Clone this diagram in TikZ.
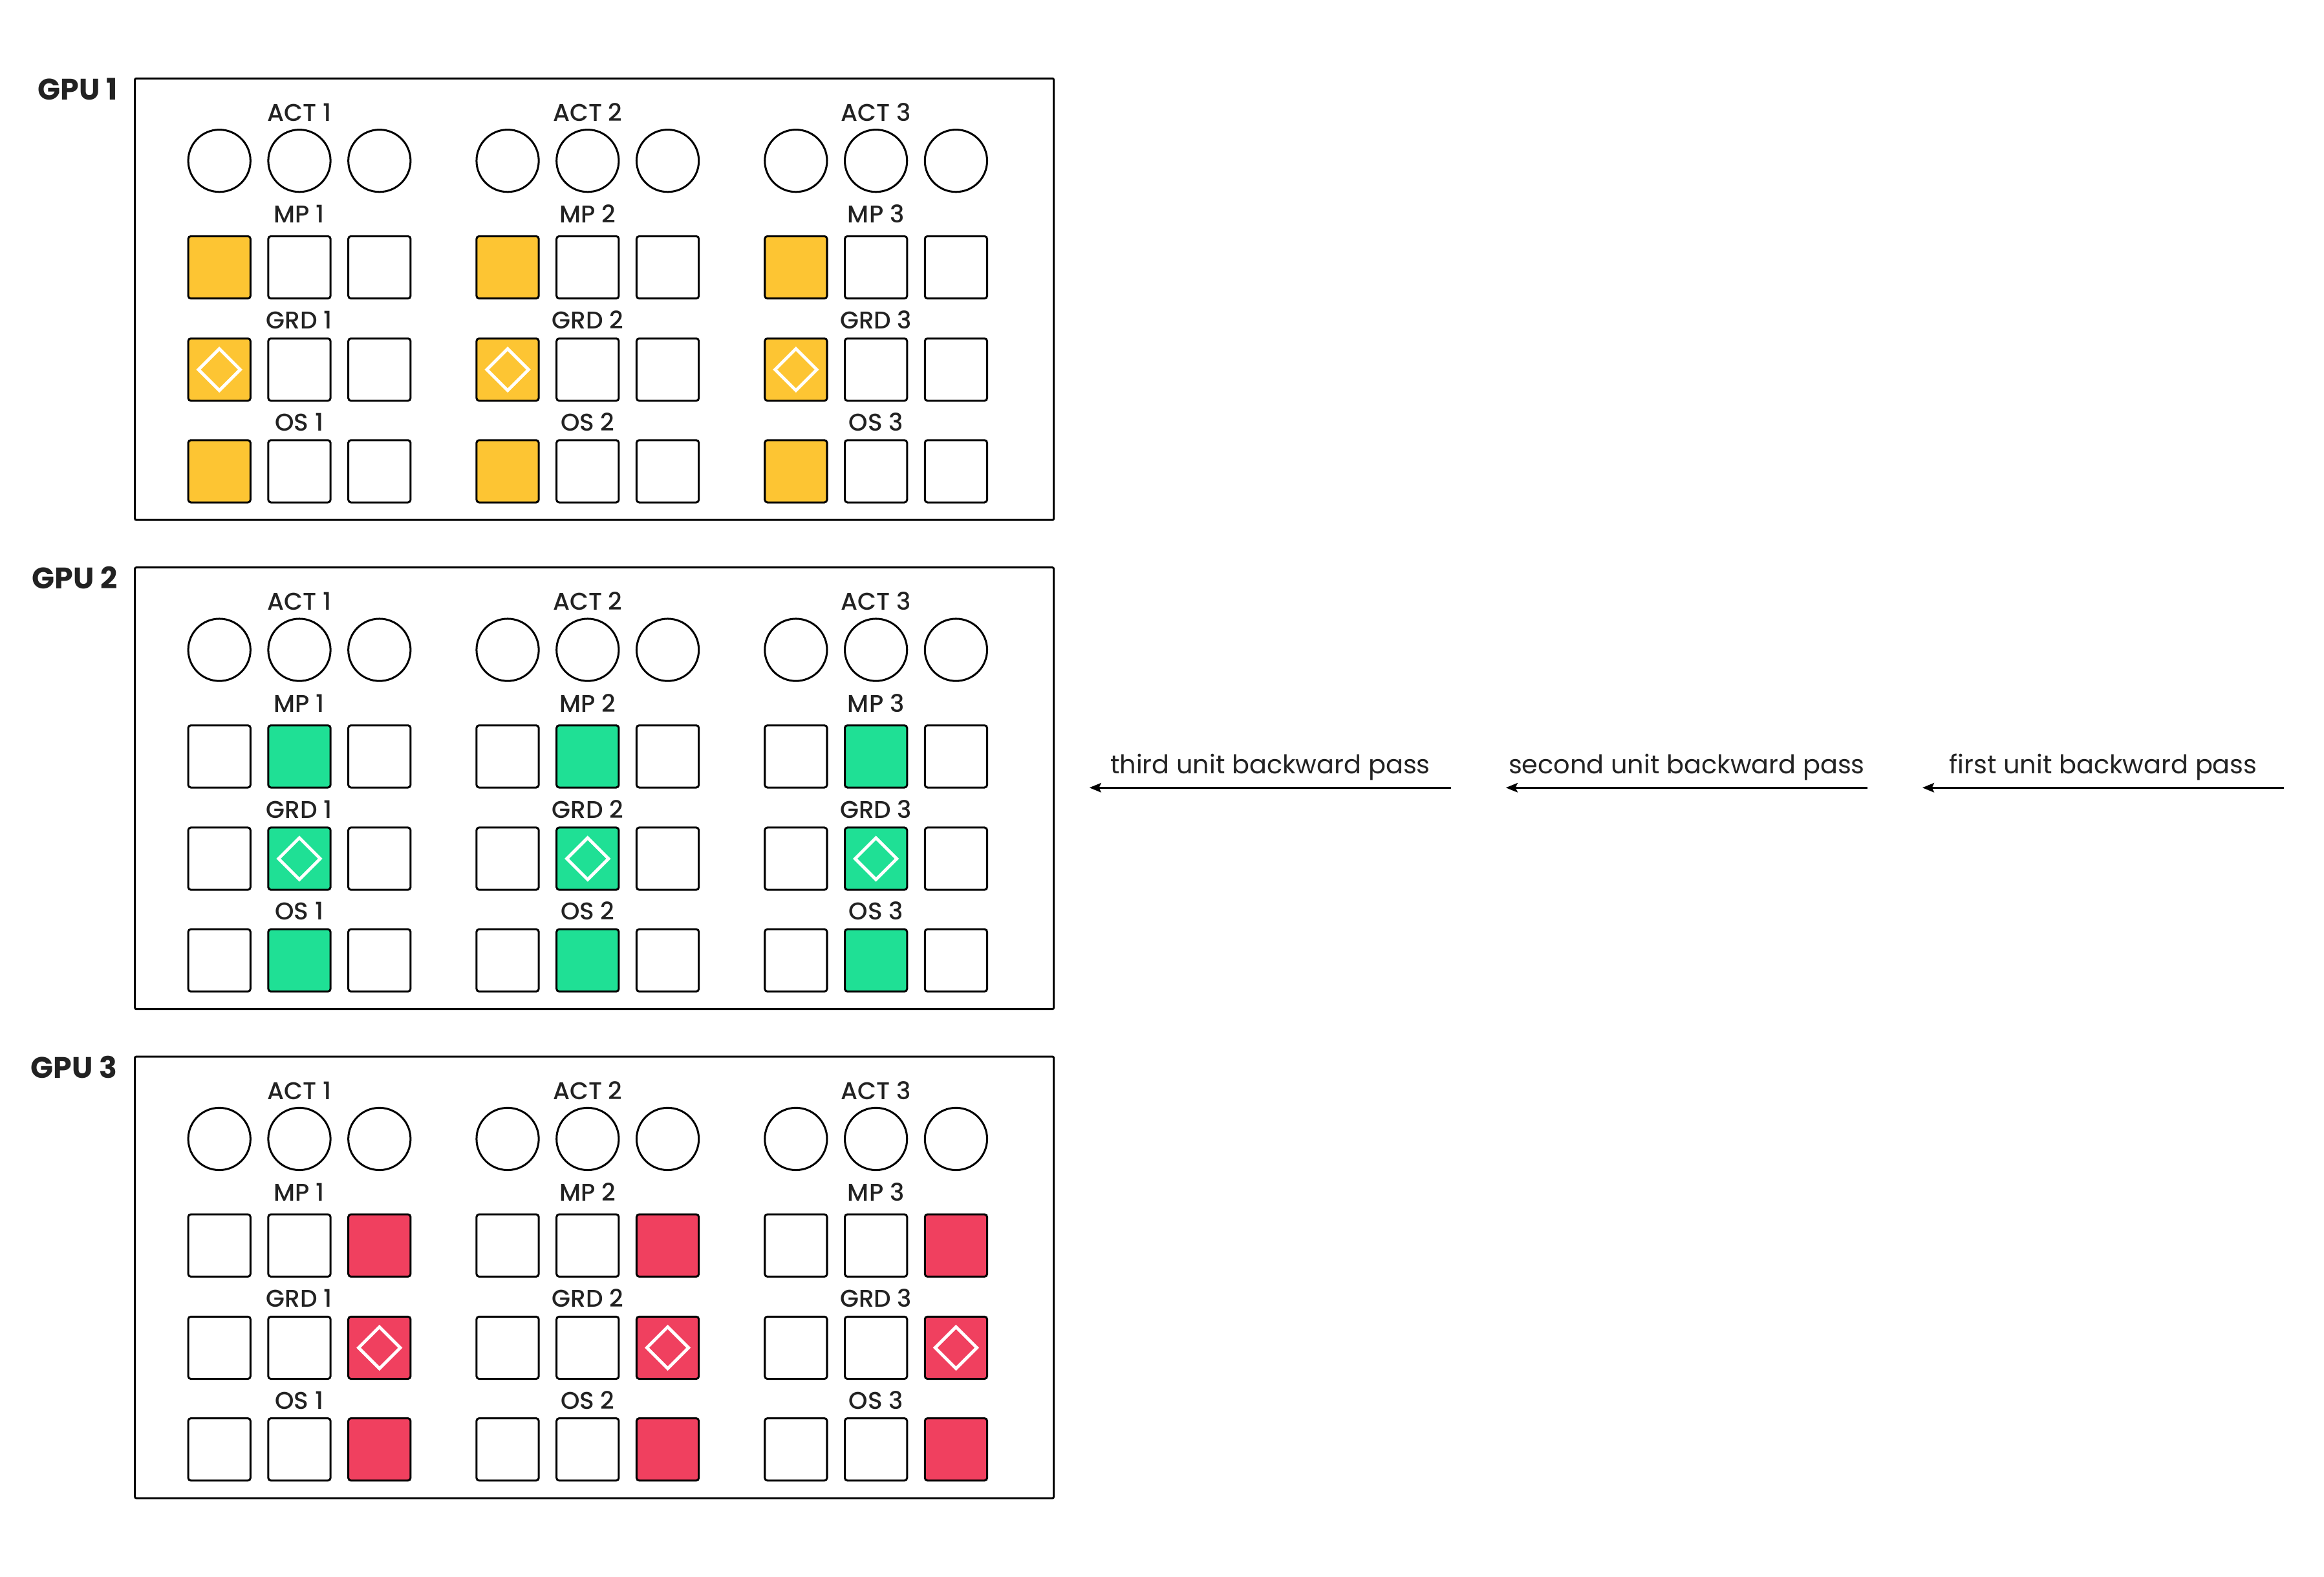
\documentclass[tikz,border=0pt]{standalone}
\usepackage{fontspec}
\setmainfont{Poppins}
\newfontfamily\medfont{Poppins Medium}
\usetikzlibrary{positioning,shapes.geometric,arrows.meta}

\definecolor{gpuyellow}{HTML}{FDC533}
\definecolor{gpugreen}{HTML}{1FE095}
\definecolor{gpured}{HTML}{F0405F}
\definecolor{ink}{HTML}{222222}

\begin{document}
\begin{tikzpicture}[x=0.02cm,y=-0.02cm,
	gpubox/.style={draw,line width=0.75pt,rounded corners=0.5pt,minimum width=12.4cm,minimum height=5.96cm,inner sep=0pt},
	actcirc/.style={draw,circle,line width=0.75pt,minimum size=0.84cm,inner sep=0pt},
	cell/.style={draw,line width=0.75pt,rounded corners=1pt,minimum size=0.84cm,inner sep=0pt},
	grad/.style={draw=white,diamond,aspect=1,line width=1.2pt,minimum size=0.58cm,inner sep=0pt},
	lbl/.style={text=ink,font=\medfont\fontsize{9.3}{10}\selectfont,inner sep=0pt,anchor=base},
	gpulbl/.style={text=ink,font=\bfseries\fontsize{11.4}{12}\selectfont,inner sep=0pt,anchor=base east},
	passlbl/.style={text=ink,font=\fontsize{9.9}{11}\selectfont,inner sep=0pt,anchor=base}]
\useasboundingbox (0,0) rectangle (1568,1064);

% three GPUs, each holding three units
\foreach \g/\col in {1/gpuyellow,2/gpugreen,3/gpured}{
	\pgfmathsetmacro\ytop{53+330*(\g-1)}
	\node[gpubox] (gpu\g) at (401,\ytop+148.9) {};
	\node[gpulbl] (gpulbl\g) at (79.5,\ytop+14.4) {GPU \g};
	\foreach \u in {1,2,3}{
		\pgfmathsetmacro\cx{202+194.5*(\u-1)}
		\node[lbl] (actlbl\g\u) at (\cx,\ytop+28.8) {ACT \u};
		\node[lbl] (mplbl\g\u) at (\cx,\ytop+97.5) {MP \u};
		\node[lbl] (grdlbl\g\u) at (\cx,\ytop+169) {GRD \u};
		\node[lbl] (oslbl\g\u) at (\cx,\ytop+237.7) {OS \u};
		\foreach \k in {1,2,3}{
			\pgfmathsetmacro\x{\cx+54*(\k-2)}
			\ifnum\k=\g \def\f{\col}\else\def\f{white}\fi
			\node[actcirc] (act\g\u\k) at (\x,\ytop+55.5) {};
			\node[cell,fill=\f] (mp\g\u\k) at (\x,\ytop+127.4) {};
			\node[cell,fill=\f] (grd\g\u\k) at (\x,\ytop+196.4) {};
			\node[cell,fill=\f] (os\g\u\k) at (\x,\ytop+265) {};
			\ifnum\k=\g \node[grad] (dia\g\u) at (grd\g\u\k) {};\fi
		}
	}
}

% backward passes, right to left
\foreach \n/\t/\xs in {3/third/735,2/second/1016,1/first/1297}{
	\coordinate (pass\n a) at (\xs+244,531.5);
	\coordinate (pass\n b) at (\xs,531.5);
	\node[passlbl] (passlbl\n) at (\xs+122,522) {\t\ unit backward pass};
	\draw[line width=0.7pt,-{Stealth[length=4.5pt,width=3.6pt,inset=0.8pt]}] (pass\n a)--(pass\n b);
}
\end{tikzpicture}
\end{document}
